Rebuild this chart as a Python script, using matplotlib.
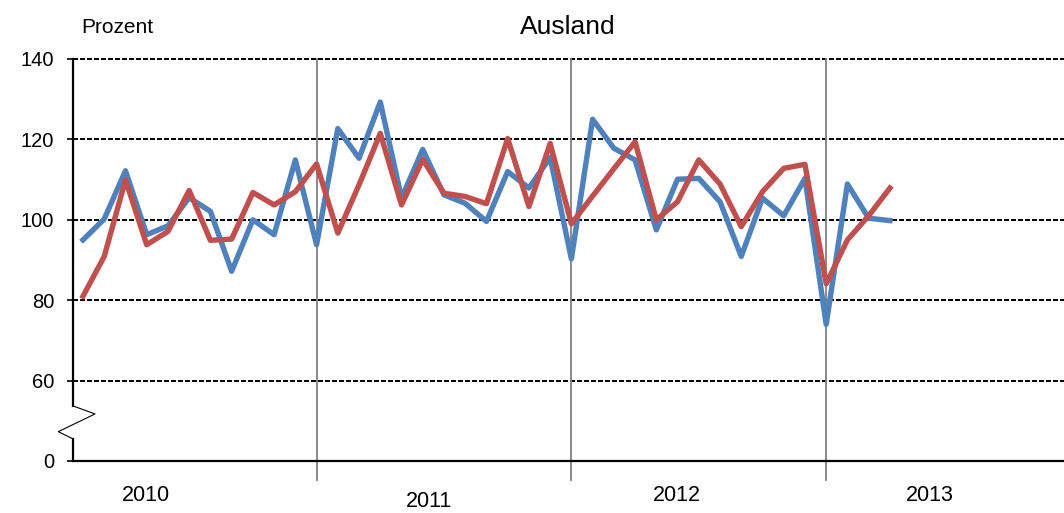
import numpy as np
import matplotlib
matplotlib.use("Agg")
import matplotlib.pyplot as plt
import matplotlib.transforms as mtransforms

plt.rcParams['font.family'] = ['Liberation Sans', 'DejaVu Sans']

# monthly values, Jan 2010 .. Mar 2013
blue = [95.0, 100.2, 112.2, 96.3, 98.5, 105.5, 102.1, 87.2, 100.0, 96.3, 114.9, 93.8,
        122.7, 115.3, 129.3, 105.4, 117.5, 106.2, 104.1, 99.6, 112.0, 107.9, 115.5, 90.3,
        125.0, 117.8, 114.9, 97.5, 110.1, 110.3, 104.5, 90.9, 105.4, 101.0, 110.3, 74.0,
        108.9, 100.4, 99.8]
red = [81.0, 90.9, 109.9, 93.8, 97.1, 107.3, 94.9, 95.2, 106.8, 103.7, 107.0, 113.9,
       96.7, 108.7, 121.5, 103.7, 115.0, 106.6, 105.8, 104.0, 120.2, 103.3, 119.0, 99.0,
       105.9, 112.7, 119.4, 100.0, 104.5, 114.9, 108.9, 98.3, 107.0, 112.8, 113.8, 84.1,
       95.0, 101.0, 107.9]
years = ["2010", "2011", "2012", "2013"]
year_label_x = [2.98, 16.29, 27.95, 39.88]
year_label_y = [-0.087, -0.101, -0.087, -0.087]
year_sep = [11, 23, 35]
yticks = [40, 60, 80, 100, 120, 140]
ytick_labels = ["0", "60", "80", "100", "120", "140"]

W, H = 1064, 513
fig = plt.figure(figsize=(W / 100, H / 100), dpi=100)
ax = fig.add_axes([73 / W, (H - 461) / H, 1 - 73 / W, 402 / H])

x = np.arange(len(blue))
ax.set_xlim(-0.471, 46.2)
ax.set_ylim(40, 140)

for v in yticks[1:]:
    ax.axhline(v, color="black", lw=1.4, ls=(0, (2.6, 1.0)), zorder=1, clip_on=False)

trans = mtransforms.blended_transform_factory(ax.transData, ax.transAxes)
for s in year_sep:
    ax.plot([s, s], [-0.047, 1], color="#808080", lw=1.3, transform=trans,
            clip_on=False, zorder=1)

ax.plot(x, blue, color="#4F81BD", lw=3.9, zorder=3)
ax.plot(x, red, color="#C0504D", lw=3.9, zorder=4)

for sp in ("top", "right", "left"):
    ax.spines[sp].set_visible(False)
ax.spines["bottom"].set_linewidth(1.6)
ax.spines["bottom"].set_zorder(2)

# left axis with break
xl = -0.471
ax.plot([xl, xl], [140, 53.7], color="black", lw=1.6, clip_on=False, zorder=2)
ax.plot([xl, xl], [45.5, 40], color="black", lw=1.6, clip_on=False, zorder=2)
ax.plot([xl, 0.565, -1.163, xl], [53.7, 51.7, 47.3, 45.5], color="black", lw=0.8,
        clip_on=False, zorder=2)

ax.set_yticks(yticks)
ax.set_yticklabels(ytick_labels, fontsize=14.5)
ax.tick_params(axis="y", length=4, width=1.2, pad=9.5, color="black")
ax.set_xticks([])

for lab, lx, ly in zip(years, year_label_x, year_label_y):
    ax.text(lx, ly, lab, transform=trans, ha="center", va="center", fontsize=15.5)

fig.text(81.7 / W, 1 - 33.3 / H, "Prozent", fontsize=15, ha="left", va="baseline")
fig.text(567.8 / W, 1 - 34.3 / H, "Ausland", fontsize=19, ha="center", va="baseline")

fig.savefig("out.png", dpi=100)
